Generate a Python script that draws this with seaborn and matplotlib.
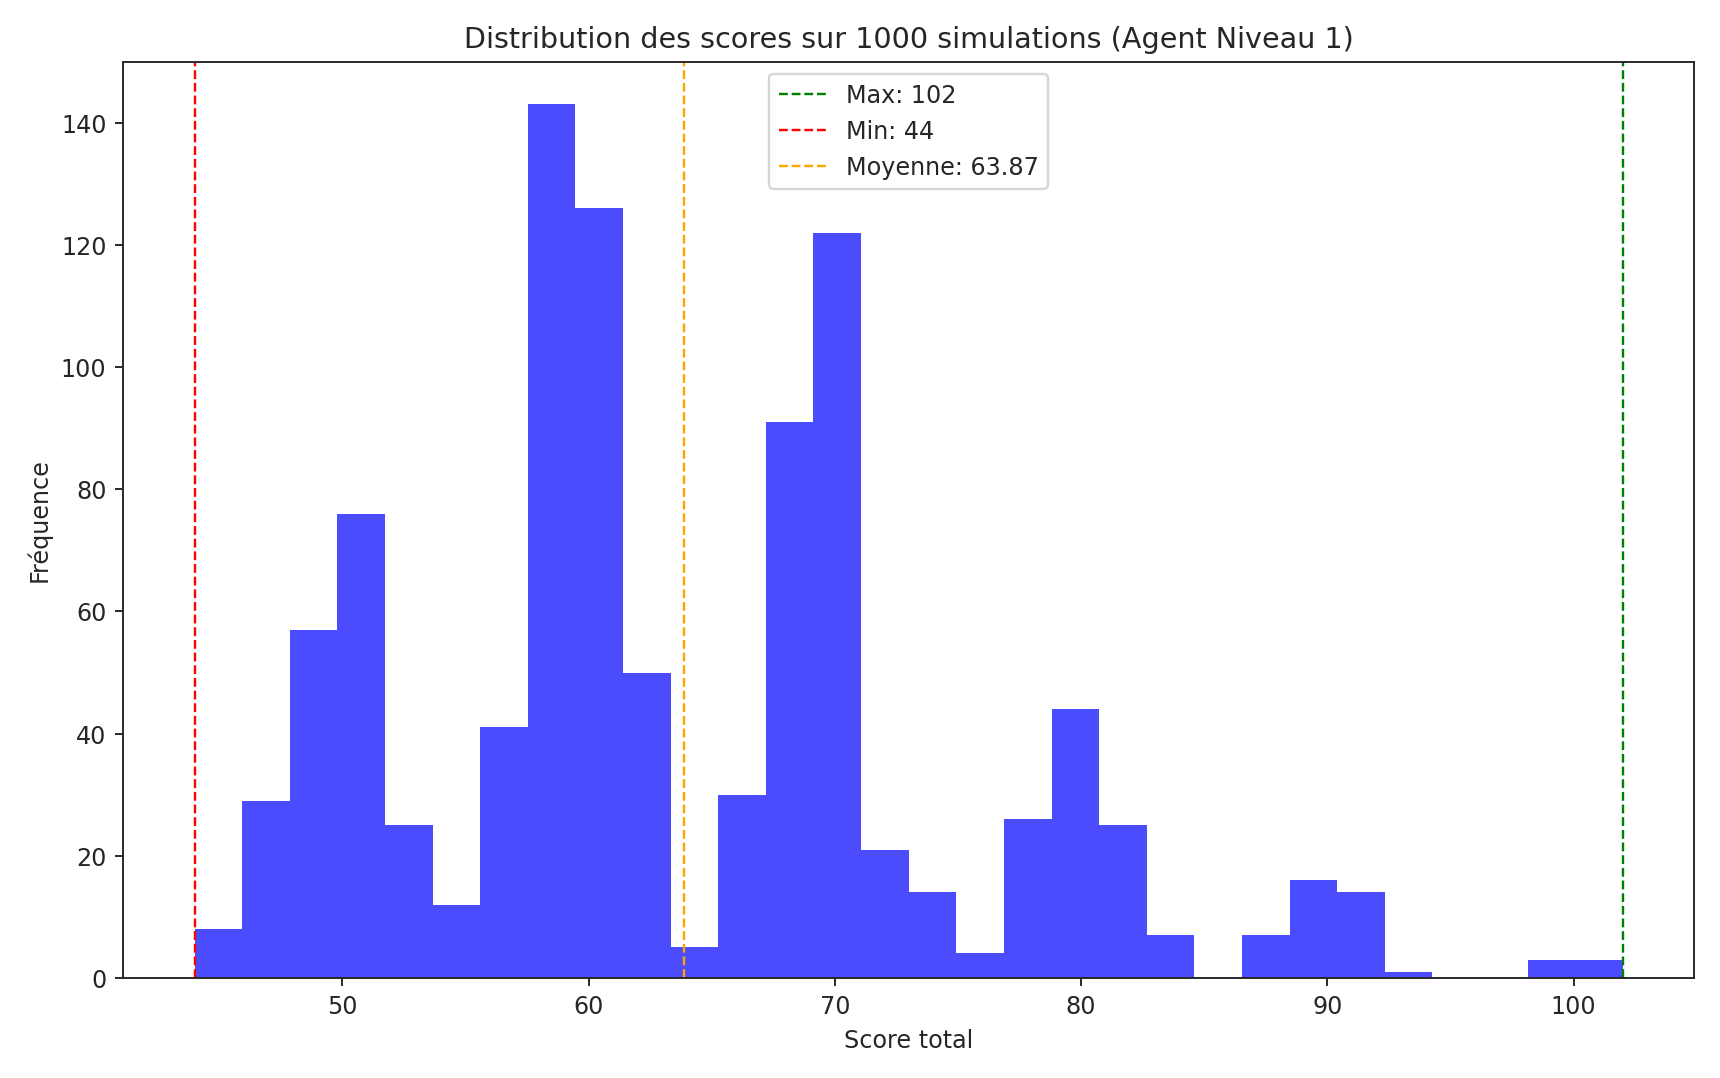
import numpy as np
import pandas as pd
import matplotlib
matplotlib.use("Agg")
import matplotlib.pyplot as plt
import seaborn as sns

score_min = 44
score_max = 102
mean_score = 63.87
n_bins = 30
counts = [8, 29, 57, 76, 25, 12, 41, 143, 126, 50, 5, 30, 91, 122, 21,
          14, 4, 26, 44, 25, 7, 0, 7, 16, 14, 1, 0, 0, 3, 3]

edges = np.linspace(score_min, score_max, n_bins + 1)
centers = (edges[:-1] + edges[1:]) / 2
df = pd.DataFrame({"score": centers, "count": counts})

sns.set_style("ticks")
plt.rcParams['font.family'] = ['DejaVu Sans']
fig, ax = plt.subplots(figsize=(10, 6.27), dpi=172)
sns.histplot(data=df, x="score", weights="count", bins=n_bins,
             binrange=(score_min, score_max), color="blue",
             alpha=0.7, edgecolor="none", linewidth=0, ax=ax)
ax.axvline(score_max, color="green", linestyle="--", linewidth=1, label=f"Max: {score_max}")
ax.axvline(score_min, color="red", linestyle="--", linewidth=1, label=f"Min: {score_min}")
ax.axvline(mean_score, color="orange", linestyle="--", linewidth=1, label=f"Moyenne: {mean_score:.2f}")
ax.set_title("Distribution des scores sur 1000 simulations (Agent Niveau 1)")
ax.set_xlabel("Score total")
ax.set_ylabel("Fréquence")
ax.set_ylim(0, 150)
ax.legend(loc="upper center")
fig.tight_layout()
fig.savefig("out.png")
